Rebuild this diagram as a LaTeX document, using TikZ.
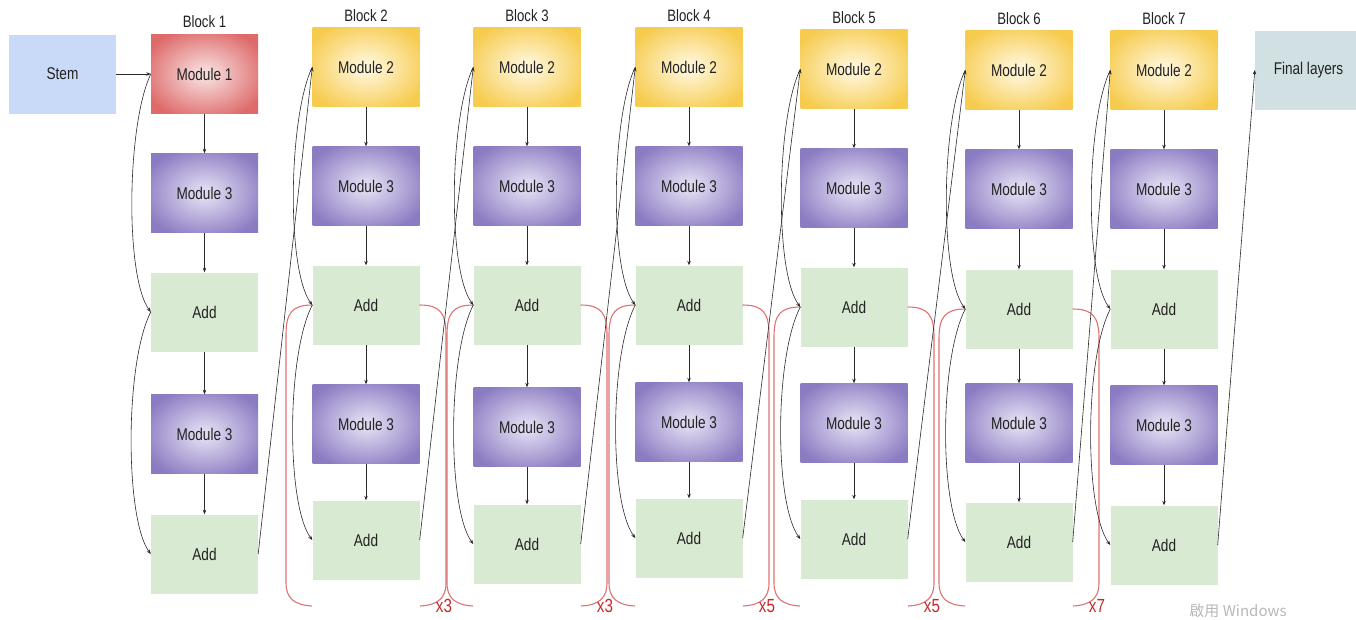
\documentclass[tikz,border=0pt]{standalone}
\usepackage{fontspec}
\setmainfont{Liberation Sans}[FakeStretch=0.8]
\newfontfamily\cjkfont{Noto Sans CJK TC}
\usetikzlibrary{arrows.meta}
\definecolor{stemc}{HTML}{C9DAF8}
\definecolor{addc}{HTML}{D9EAD3}
\definecolor{finc}{HTML}{D0E0E3}
\definecolor{redin}{HTML}{F6D6D6}
\definecolor{redout}{HTML}{DE6A6A}
\definecolor{yelin}{HTML}{FFF4D2}
\definecolor{yelout}{HTML}{F6CB4E}
\definecolor{purin}{HTML}{DDD7EF}
\definecolor{purout}{HTML}{8B7BC2}
\definecolor{textc}{HTML}{222222}
\definecolor{linec}{HTML}{2A2A2A}
\definecolor{brkc}{HTML}{E07272}
\definecolor{labc}{HTML}{C62828}
\pgfdeclareradialshading{redshade}{\pgfpoint{0bp}{0bp}}{color(0bp)=(redin); color(4bp)=(redin); color(30bp)=(redout); color(50bp)=(redout)}
\pgfdeclareradialshading{yelshade}{\pgfpoint{0bp}{0bp}}{color(0bp)=(yelin); color(4bp)=(yelin); color(30bp)=(yelout); color(50bp)=(yelout)}
\pgfdeclareradialshading{purshade}{\pgfpoint{0bp}{0bp}}{color(0bp)=(purin); color(4bp)=(purin); color(30bp)=(purout); color(50bp)=(purout)}
\tikzset{
  box/.style={draw=none, minimum width=107pt, minimum height=79pt, inner sep=0pt,
    text=textc, font=\fontsize{17}{20}\selectfont},
  redbox/.style={box, shade, shading=redshade},
  yelbox/.style={box, shade, shading=yelshade},
  purbox/.style={box, shade, shading=purshade},
  addbox/.style={box, fill=addc},
  blab/.style={text=textc, font=\fontsize{16.5}{18}\selectfont, inner sep=0pt},
  xlab/.style={text=labc, font=\fontsize{19}{20}\selectfont, inner sep=0pt},
  arr/.style={draw=linec, line width=0.6pt, -{Stealth[length=4.5pt,width=3.5pt]}},
  skip/.style={arr},
  brk/.style={draw=brkc, line width=1.1pt}
}
\begin{document}
\begin{tikzpicture}[x=1pt,y=1pt]
\clip (0,0) rectangle (1356,-619);
\fill[white] (0,0) rectangle (1356,-619);
% stem and block 1
\node[box, fill=stemc] (stem) at (62.5,-74) {Stem};
\node[blab] (lab-1) at (204.5,-22) {Block 1};
\node[redbox] (top-1) at (204.5,-74) {Module 1};
\node[purbox] (m3a-1) at (204.5,-193) {Module 3};
\node[addbox] (adda-1) at (204.5,-312) {Add};
\node[purbox] (m3b-1) at (204.5,-434) {Module 3};
\node[addbox] (addb-1) at (204.5,-554) {Add};
\node[box, fill=finc] (fin) at (1308.5,-70) {Final layers};
% blocks 2..7
\foreach \b/\x/\ya/\yb/\yc/\yd/\ye in {2/366/67/186/305/424/540, 3/527/67/186/305/427/544, 4/689/67/186/305/422/538, 5/854/69/188/307/423/539, 6/1019/70/189/309/423/542, 7/1164/70/189/309/425/545}{
  \node[blab] (lab-\b) at (\x,{-\ya+51}) {Block \b};
  \node[yelbox] (top-\b) at (\x,-\ya) {Module 2};
  \node[purbox] (m3a-\b) at (\x,-\yb) {Module 3};
  \node[addbox] (adda-\b) at (\x,-\yc) {Add};
  \node[purbox] (m3b-\b) at (\x,-\yd) {Module 3};
  \node[addbox] (addb-\b) at (\x,-\ye) {Add};
}
% red brackets
\foreach \b/\x/\yc/\t in {2/366/305/x3, 3/527/305/x3, 4/689/305/x5, 5/854/307/x5, 6/1019/309/x7}{
  \draw[brk] ({\x-53.5},-\yc) .. controls ({\x-74},-\yc) and ({\x-80},{-\yc-8}) .. ({\x-80},{-\yc-30})
    -- ({\x-80},-583) .. controls ({\x-80},-598) and ({\x-72},-605) .. ({\x-54},-606);
  \draw[brk] ({\x+53.5},-\yc) .. controls ({\x+74},-\yc) and ({\x+80},{-\yc-8}) .. ({\x+80},{-\yc-30})
    -- ({\x+80},-583) .. controls ({\x+80},-598) and ({\x+72},-605) .. ({\x+54},-606);
  \node[xlab] (xl-\b) at ({\x+78},-606) {\t};
}
% connectors
\draw[arr] (stem.east) -- (top-1.west);
\foreach \b in {1,...,7}{
  \draw[arr] (top-\b.south) -- (m3a-\b.north);
  \draw[arr] (m3a-\b.south) -- (adda-\b.north);
  \draw[arr] (adda-\b.south) -- (m3b-\b.north);
  \draw[arr] (m3b-\b.south) -- (addb-\b.north);
  \draw[skip] (top-\b.west) .. controls +(-24,-50) and +(-26,35) .. (adda-\b.west);
  \draw[skip] (adda-\b.west) .. controls +(-26,-50) and +(-26,35) .. (addb-\b.west);
}
\foreach \b in {2,...,7}{
  \pgfmathtruncatemacro\p{\b-1}
  \draw[arr] (addb-\p.east) -- (top-\b.west);
}
\draw[arr] (addb-7.east) -- (fin.west);
\node[text=gray!55, font=\cjkfont\fontsize{15}{16}\selectfont, inner sep=0pt] (wm) at (1238,-611) {啟用 Windows};
\end{tikzpicture}
\end{document}
